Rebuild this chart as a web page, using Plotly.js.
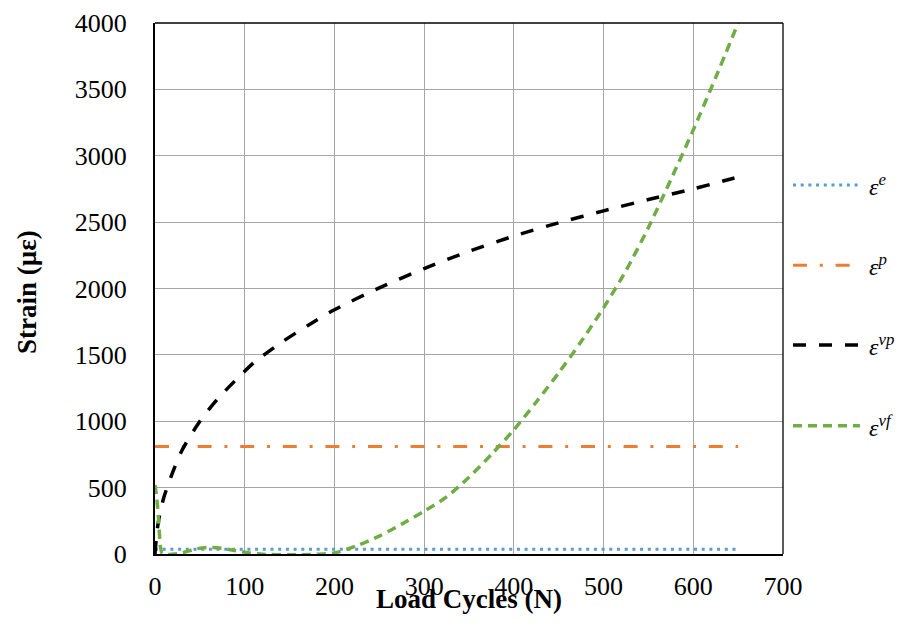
<!DOCTYPE html>
<html>
<head>
<meta charset="utf-8">
<script src="https://cdn.plot.ly/plotly-3.0.1.min.js"></script>
<style>html,body{margin:0;padding:0;background:#fff;}#chart{width:900px;height:628px;}</style>
</head>
<body>
<div id="chart"></div>
<script>
// ---- data ----
const seriesNames = ["ε<sup>e</sup>", "ε<sup>p</sup>", "ε<sup>vp</sup>", "ε<sup>vf</sup>"];

const cyclesConst = [0, 100, 200, 300, 400, 500, 600, 650];
const elasticStrain = [35, 35, 35, 35, 35, 35, 35, 35];
const plasticStrain = [810, 810, 810, 810, 810, 810, 810, 810];

const cyclesVP = [0, 2, 5, 10, 20, 30, 50, 70, 90, 110, 140, 170, 200, 250, 300, 350, 400, 450, 500, 550, 600, 650];
const viscoplasticStrain = [0, 160, 290, 430, 620, 780, 1000, 1170, 1310, 1440, 1590, 1720, 1840, 2005, 2150, 2280, 2395, 2495, 2585, 2670, 2750, 2840];

const cyclesVF = [0, 2, 4, 6, 8, 15, 30, 45, 60, 75, 90, 105, 120, 150, 180, 200, 225, 250, 275, 300, 325, 350, 375, 400, 425, 450, 475, 500, 525, 550, 575, 600, 625, 650];
const viscousFlowStrain = [520, 420, 260, 60, 5, -3, 8, 38, 50, 42, 25, 8, -2, -6, -2, 8, 62, 135, 225, 322, 430, 578, 750, 935, 1145, 1365, 1600, 1855, 2135, 2460, 2820, 3195, 3590, 4000];

const xTickVals = [0, 100, 200, 300, 400, 500, 600, 700];
const yTickVals = [0, 500, 1000, 1500, 2000, 2500, 3000, 3500, 4000];

// ---- styles ----
const serif = "Liberation Serif, Times New Roman, serif";
const colors = ["#5b9bd5", "#ed7d31", "#000000", "#70ad47"];
const widths = [3, 3, 3.5, 3.5];
const dashes = ["3px,4.7px", "14px,12.8px,3px,12.8px", "13px,13px", "9px,6px"];
const shapesOfLine = ["linear", "linear", "spline", "spline"];

const xs = [cyclesConst, cyclesConst, cyclesVP, cyclesVF];
const ys = [elasticStrain, plasticStrain, viscoplasticStrain, viscousFlowStrain];

const traces = ys.map((y, i) => ({
  type: "scatter", mode: "lines", x: xs[i], y: y, name: seriesNames[i],
  line: {color: colors[i], width: widths[i], dash: dashes[i], shape: shapesOfLine[i], smoothing: 0.7},
  showlegend: false, hoverinfo: "skip"
}));

// legend drawn beside the plot (paper coordinates)
const legendY = [0.6949, 0.5437, 0.3936, 0.2416];
const shapes = [
  {type: "line", xref: "paper", yref: "paper", x0: 0, x1: 1, y0: 1, y1: 1, line: {color: "#000", width: 1.3}},
  {type: "line", xref: "paper", yref: "paper", x0: 1, x1: 1, y0: 0, y1: 1, line: {color: "#000", width: 1.3}}
];
const annotations = [
  {xref: "paper", yref: "paper", x: 0.5, y: -0.085, xanchor: "center", yanchor: "middle", showarrow: false,
   text: "<b>Load Cycles (N)</b>", font: {family: serif, size: 27, color: "#000"}},
  {xref: "paper", yref: "paper", x: -0.203, y: 0.4925, xanchor: "center", yanchor: "middle", showarrow: false,
   textangle: -90, text: "<b>Strain (µε)</b>", font: {family: serif, size: 27, color: "#000"}}
];
legendY.forEach((ly, i) => {
  shapes.push({type: "line", xref: "paper", yref: "paper", x0: 1.0159, x1: 1.1226, y0: ly, y1: ly,
    line: {color: colors[i], width: widths[i], dash: dashes[i]}});
  annotations.push({xref: "paper", yref: "paper", x: 1.1338, y: ly, xanchor: "left", yanchor: "middle", showarrow: false,
    text: "<i>" + seriesNames[i] + "</i>", font: {family: serif, size: 24, color: "#000"}});
});

const layout = {
  width: 900, height: 628,
  font: {family: serif, size: 26, color: "#000"},
  margin: {l: 155, r: 117, t: 23, b: 74},
  paper_bgcolor: "#fff", plot_bgcolor: "#fff",
  showlegend: false,
  xaxis: {
    range: [0, 700], tickvals: xTickVals, ticktext: xTickVals.map(String),
    showgrid: true, gridcolor: "#a6a6a6", gridwidth: 1, zeroline: false,
    showline: true, linecolor: "#000", linewidth: 2, ticks: "",
    ticklabelstandoff: 8,
    tickfont: {family: serif, size: 26, color: "#000"}
  },
  yaxis: {
    range: [0, 4000], tickvals: yTickVals, ticktext: yTickVals.map(String),
    showgrid: true, gridcolor: "#a6a6a6", gridwidth: 1, zeroline: false,
    showline: true, linecolor: "#000", linewidth: 2, ticks: "",
    ticklabelstandoff: 21,
    tickfont: {family: serif, size: 26, color: "#000"}
  },
  shapes: shapes,
  annotations: annotations
};

Plotly.newPlot("chart", traces, layout, {displayModeBar: false, staticPlot: true});
</script>
</body>
</html>
